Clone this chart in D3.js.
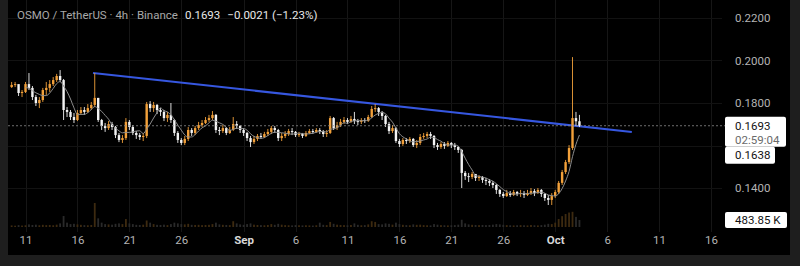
<!DOCTYPE html>
<html><head><meta charset="utf-8">
<script src="https://cdn.jsdelivr.net/npm/d3@7"></script>
<style>
html,body{margin:0;padding:0;background:#1e1e1e;}
svg{display:block;}
text{font-family:Roboto,"Noto Sans",sans-serif;}
</style></head><body>
<svg id="c" width="800" height="266"></svg>
<script>
// ---------- DATA ----------
const symbolText = "OSMO / TetherUS · 4h · Binance";
const startTime = Date.UTC(2025, 7, 9, 16);   // first candle
const stepHours = 8;
const firstOpen = 0.1875;
const closes = [
0.1885,0.1889,0.1847,0.1852,0.1889,0.1871,0.1828,0.1800,0.1814,0.1861,
0.1871,0.1889,0.1908,0.1927,0.1908,0.1767,0.1758,0.1734,0.1720,0.1753,
0.1767,0.1758,0.1776,0.1791,0.1824,0.1720,0.1692,0.1682,0.1701,0.1687,
0.1649,0.1626,0.1635,0.1711,0.1687,0.1659,0.1649,0.1640,0.1645,0.1795,
0.1776,0.1791,0.1767,0.1758,0.1729,0.1744,0.1720,0.1659,0.1626,0.1612,
0.1631,0.1673,0.1659,0.1682,0.1696,0.1706,0.1720,0.1729,0.1744,0.1673,
0.1668,0.1682,0.1659,0.1673,0.1701,0.1692,0.1673,0.1659,0.1635,0.1616,
0.1631,0.1645,0.1640,0.1654,0.1664,0.1682,0.1673,0.1635,0.1645,0.1654,
0.1668,0.1664,0.1649,0.1654,0.1645,0.1659,0.1668,0.1664,0.1673,0.1668,
0.1654,0.1659,0.1729,0.1682,0.1696,0.1711,0.1720,0.1711,0.1725,0.1715,
0.1711,0.1720,0.1715,0.1734,0.1772,0.1776,0.1758,0.1739,0.1701,0.1668,
0.1682,0.1621,0.1607,0.1626,0.1621,0.1631,0.1602,0.1612,0.1640,0.1645,
0.1654,0.1645,0.1602,0.1593,0.1607,0.1598,0.1612,0.1602,0.1593,0.1579,
0.1471,0.1456,0.1452,0.1466,0.1447,0.1452,0.1438,0.1433,0.1424,0.1414,
0.1391,0.1372,0.1362,0.1376,0.1367,0.1381,0.1372,0.1376,0.1367,0.1376,
0.1386,0.1376,0.1391,0.1372,0.1353,0.1344,0.1362,0.1381,0.1424,0.1475,
0.1522,0.1588,0.1729,0.1714,0.1693];
const highs = [
0.1899,0.1899,0.1885,0.1861,0.1899,0.1941,0.1880,0.1838,0.1828,0.1871,
0.1899,0.1908,0.1922,0.1937,0.1955,0.1913,0.1781,0.1767,0.1753,0.1767,
0.1781,0.1781,0.1795,0.1805,0.1941,0.1824,0.1725,0.1706,0.1715,0.1711,
0.1692,0.1659,0.1649,0.1729,0.1720,0.1696,0.1668,0.1659,0.1659,0.1805,
0.1809,0.1805,0.1795,0.1776,0.1767,0.1758,0.1800,0.1725,0.1668,0.1635,
0.1645,0.1687,0.1682,0.1692,0.1711,0.1720,0.1734,0.1744,0.1762,0.1748,
0.1687,0.1696,0.1687,0.1687,0.1734,0.1715,0.1696,0.1682,0.1664,0.1645,
0.1645,0.1654,0.1659,0.1664,0.1678,0.1692,0.1692,0.1678,0.1659,0.1668,
0.1678,0.1682,0.1668,0.1664,0.1659,0.1668,0.1678,0.1678,0.1682,0.1682,
0.1673,0.1673,0.1739,0.1734,0.1711,0.1725,0.1734,0.1729,0.1739,0.1758,
0.1725,0.1729,0.1729,0.1744,0.1786,0.1795,0.1781,0.1762,0.1744,0.1711,
0.1696,0.1687,0.1631,0.1635,0.1635,0.1640,0.1635,0.1626,0.1654,0.1659,
0.1664,0.1664,0.1649,0.1612,0.1616,0.1616,0.1621,0.1616,0.1612,0.1598,
0.1584,0.1480,0.1471,0.1475,0.1466,0.1461,0.1456,0.1447,0.1442,0.1433,
0.1419,0.1395,0.1381,0.1391,0.1386,0.1391,0.1386,0.1391,0.1386,0.1391,
0.1400,0.1395,0.1400,0.1395,0.1376,0.1367,0.1376,0.1391,0.1433,0.1485,
0.1532,0.1602,0.2016,0.1758,0.1744];
const lows = [
0.1871,0.1875,0.1833,0.1828,0.1847,0.1861,0.1814,0.1786,0.1776,0.1805,
0.1838,0.1852,0.1880,0.1899,0.1899,0.1720,0.1734,0.1720,0.1706,0.1715,
0.1744,0.1744,0.1753,0.1767,0.1781,0.1711,0.1673,0.1664,0.1673,0.1673,
0.1635,0.1616,0.1612,0.1626,0.1673,0.1649,0.1631,0.1626,0.1621,0.1635,
0.1758,0.1758,0.1748,0.1739,0.1715,0.1711,0.1706,0.1645,0.1612,0.1602,
0.1602,0.1621,0.1645,0.1649,0.1673,0.1687,0.1701,0.1711,0.1720,0.1659,
0.1649,0.1659,0.1649,0.1654,0.1668,0.1678,0.1659,0.1645,0.1621,0.1593,
0.1607,0.1621,0.1631,0.1635,0.1645,0.1654,0.1659,0.1621,0.1621,0.1635,
0.1645,0.1649,0.1640,0.1640,0.1635,0.1640,0.1654,0.1654,0.1659,0.1654,
0.1640,0.1640,0.1654,0.1673,0.1673,0.1687,0.1701,0.1701,0.1706,0.1701,
0.1696,0.1701,0.1706,0.1711,0.1729,0.1758,0.1739,0.1720,0.1687,0.1654,
0.1659,0.1612,0.1593,0.1598,0.1607,0.1612,0.1593,0.1588,0.1602,0.1631,
0.1635,0.1631,0.1588,0.1579,0.1584,0.1584,0.1593,0.1588,0.1579,0.1565,
0.1400,0.1438,0.1428,0.1442,0.1433,0.1433,0.1424,0.1414,0.1409,0.1400,
0.1372,0.1358,0.1353,0.1358,0.1358,0.1362,0.1362,0.1358,0.1353,0.1362,
0.1367,0.1362,0.1372,0.1358,0.1339,0.1320,0.1320,0.1353,0.1372,0.1414,
0.1466,0.1513,0.1579,0.1692,0.1687];
// volume, thousands of OSMO
const volumes = [
110,90,130,100,120,180,140,160,120,150,
130,140,120,160,250,760,300,200,220,180,
150,130,120,140,1660,600,300,200,180,160,
220,250,200,550,250,200,150,140,160,450,
300,200,150,140,160,130,200,300,250,200,
180,220,150,140,150,130,140,150,200,300,
180,150,140,130,400,250,180,150,200,250,
160,140,130,120,140,200,150,220,160,130,
120,110,130,120,110,120,110,100,120,300,
150,130,350,220,160,140,130,120,140,250,
150,120,130,180,400,350,200,180,250,220,
160,300,200,150,130,120,180,150,160,130,
120,110,200,160,130,120,110,120,130,160,
500,250,180,150,140,130,140,130,140,160,
200,180,150,130,120,110,120,130,120,110,
140,120,110,130,160,220,200,300,550,750,
900,1000,1050,700,483.85];
const maPeriod = 5;
const tickDates = ["2025-08-11","2025-08-16","2025-08-21","2025-08-26","2025-09-01","2025-09-06","2025-09-11",
                   "2025-09-16","2025-09-21","2025-09-26","2025-10-01","2025-10-06","2025-10-11","2025-10-16"];
const tickLabels = ["11","16","21","26","Sep","6","11","16","21","26","Oct","6","11","16"];
const priceTicks = [0.14, 0.18, 0.20, 0.22];
const gridPrices = [0.14, 0.16, 0.18, 0.20, 0.22];
const trendDates = ["2025-08-17T12:00:00Z", "2025-10-08T09:00:00Z"];
const trendPrices = [0.1941, 0.1664];
const lastPrice = 0.1693, priceChange = "−0.0021", priceChangePct = "(−1.23%)";
const countdown = "02:59:04";
const maLabel = 0.1638;
const volLabel = "483.85 K";

// ---------- CHART ----------
const svg = d3.select("#c");
svg.append("rect").attr("width",800).attr("height",266).attr("fill","#1e1e1e");
svg.append("rect").attr("x",8).attr("y",0).attr("width",782).attr("height",255).attr("fill","#000");

const x = d3.scaleUtc().domain([new Date("2025-08-11T00:00:00Z"), new Date("2025-10-16T00:00:00Z")]).range([25.5, 711]);
const y = d3.scaleLinear().domain([0.14, 0.22]).range([188, 18]);
const yv = d3.scaleLinear().domain([0, 1660]).range([227, 203]);

const data = closes.map((c,i)=>({
  t: new Date(startTime + i*stepHours*3600e3),
  o: i ? closes[i-1] : firstOpen, h: highs[i], l: lows[i], c, v: volumes[i]
}));

svg.append("defs").append("clipPath").attr("id","plot")
  .append("rect").attr("x",8).attr("y",0).attr("width",714).attr("height",232);

// grid
const grid = svg.append("g").attr("clip-path","url(#plot)");
grid.selectAll("line.v").data(tickDates).join("line")
  .attr("x1",d=>Math.round(x(new Date(d)))+0.5).attr("x2",d=>Math.round(x(new Date(d)))+0.5)
  .attr("y1",0).attr("y2",232).attr("stroke","#161616");
grid.selectAll("line.h").data(gridPrices).join("line")
  .attr("x1",8).attr("x2",722).attr("y1",d=>Math.round(y(d))+0.5).attr("y2",d=>Math.round(y(d))+0.5)
  .attr("stroke","#121212");

const plot = svg.append("g").attr("clip-path","url(#plot)");

// volume
plot.selectAll("rect.vol").data(data).join("rect")
  .attr("x",d=>x(d.t)-0.9).attr("width",1.8)
  .attr("y",d=>yv(d.v)).attr("height",d=>yv(0)-yv(d.v))
  .attr("fill",d=>d.c>=d.o ? "#3d2a10" : "#2a2a2a");

// current price dashed line
svg.append("line").attr("x1",8).attr("x2",725).attr("y1",y(lastPrice)).attr("y2",y(lastPrice))
  .attr("stroke","#8a8a8a").attr("stroke-width",0.8).attr("stroke-dasharray","2,2");

// trend line
plot.append("line")
  .attr("x1",x(new Date(trendDates[0]))).attr("y1",y(trendPrices[0]))
  .attr("x2",x(new Date(trendDates[1]))).attr("y2",y(trendPrices[1]))
  .attr("stroke","#3657e0").attr("stroke-width",2);

// candles
const up = "#f2a03a", down = "#f4f4f4";
plot.selectAll("line.wick").data(data).join("line")
  .attr("x1",d=>x(d.t)).attr("x2",d=>x(d.t)).attr("y1",d=>y(d.h)).attr("y2",d=>y(d.l))
  .attr("stroke",d=>d.c>=d.o?up:down).attr("stroke-width",0.9);
plot.selectAll("rect.body").data(data).join("rect")
  .attr("x",d=>x(d.t)-1.2).attr("width",2.4)
  .attr("y",d=>y(Math.max(d.o,d.c))).attr("height",d=>Math.max(1,Math.abs(y(d.o)-y(d.c))))
  .attr("fill",d=>d.c>=d.o?up:down);

// moving average
const ma = data.map((d,i)=> i<maPeriod-1 ? null : {t:d.t, v:d3.mean(closes.slice(i-maPeriod+1,i+1))}).filter(Boolean);
plot.append("path").datum(ma)
  .attr("d",d3.line().x(d=>x(d.t)).y(d=>y(d.v)).curve(d3.curveMonotoneX))
  .attr("fill","none").attr("stroke","#8d8d8d").attr("stroke-width",1);

// x axis
const xa = svg.append("g").attr("transform","translate(0,236)")
  .call(d3.axisBottom(x).tickValues(tickDates.map(d=>new Date(d+"T00:00:00Z"))).tickFormat((d,i)=>tickLabels[i]).tickSize(0).tickPadding(0));
xa.select(".domain").remove();
xa.selectAll("text").attr("font-family","Roboto, sans-serif").attr("font-size","11.5px")
  .attr("fill",(d,i)=>/^[A-Z]/.test(tickLabels[i])?"#d8d8d8":"#b4b4b4")
  .attr("font-weight",(d,i)=>/^[A-Z]/.test(tickLabels[i])?"bold":"normal");

// y axis
const ya = svg.append("g").attr("transform","translate(735,0)")
  .call(d3.axisRight(y).tickValues(priceTicks).tickFormat(d3.format(".4f")).tickSize(0).tickPadding(0));
ya.select(".domain").remove();
ya.selectAll("text").attr("font-family","Roboto, sans-serif").attr("font-size","11.5px").attr("fill","#b4b4b4");

// price labels
const yp = y(lastPrice);
svg.append("rect").attr("x",725).attr("y",yp-9).attr("width",61).attr("height",30).attr("rx",2).attr("fill","#ffffff");
svg.append("text").attr("x",735).attr("y",yp).attr("dy","0.35em").attr("font-size","11.5px").attr("fill","#111").text(d3.format(".4f")(lastPrice));
svg.append("text").attr("x",735).attr("y",yp+14).attr("dy","0.35em").attr("font-size","11.5px").attr("fill","#6a6a6a").text(countdown);
svg.append("rect").attr("x",725).attr("y",yp+21).attr("width",50).attr("height",17).attr("rx",2).attr("fill","#ffffff");
svg.append("text").attr("x",735).attr("y",yp+29.5).attr("dy","0.35em").attr("font-size","11.5px").attr("fill","#111").text(d3.format(".4f")(maLabel));
const vy = yv(volumes[volumes.length-1]);
svg.append("rect").attr("x",725).attr("y",vy-8).attr("width",62).attr("height",16).attr("rx",2).attr("fill","#ffffff");
svg.append("text").attr("x",735).attr("y",vy).attr("dy","0.35em").attr("font-size","11.5px").attr("fill","#111").text(volLabel);

// header
const hdr = svg.append("text").attr("x",17).attr("y",19).attr("font-size","11.5px");
hdr.append("tspan").attr("fill","#a8a8a8").text(symbolText);
hdr.append("tspan").attr("dx",7).attr("fill","#e8e8e8").text(d3.format(".4f")(lastPrice));
hdr.append("tspan").attr("dx",7).attr("fill","#e8e8e8").text(priceChange + " " + priceChangePct);
</script>
</body></html>
